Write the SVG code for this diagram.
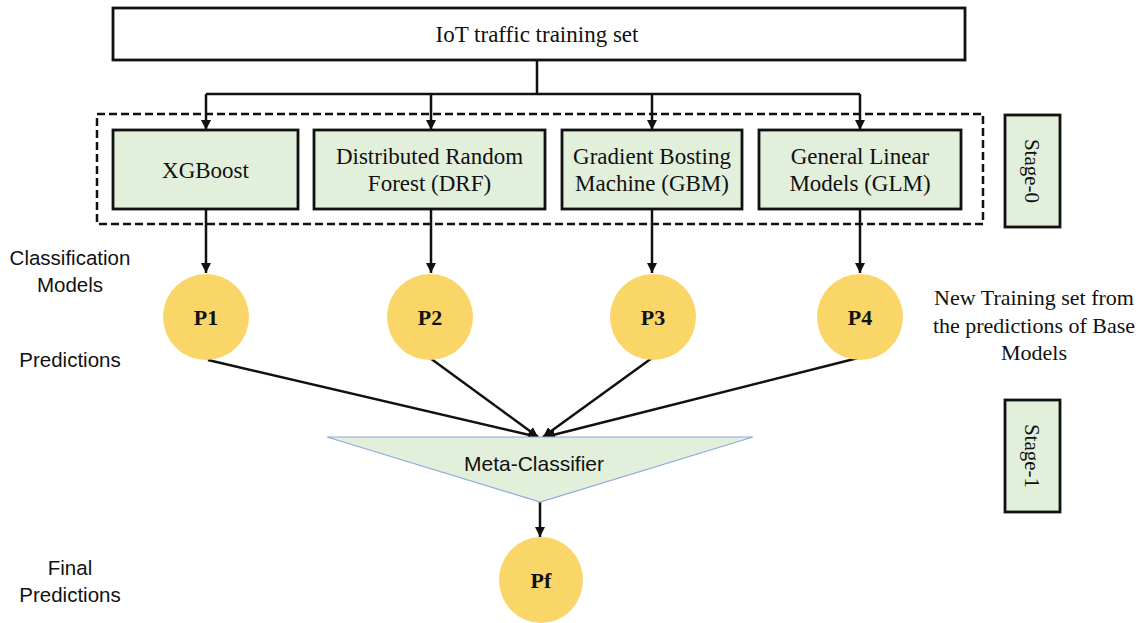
<svg xmlns="http://www.w3.org/2000/svg" width="1146" height="623" viewBox="0 0 1146 623">
<style>
.serif{font-family:"Liberation Serif","Times New Roman",serif;fill:#111}
.sans{font-family:"Liberation Sans",Arial,sans-serif;fill:#111}
.box{fill:#E2EFDA;stroke:#111;stroke-width:2.8}
.circ{fill:#FAD669;stroke:none}
.conn{stroke:#111;stroke-width:2.5;fill:none}
</style>
<defs>
<marker id="ah" viewBox="0 0 10 10" refX="10" refY="5" markerWidth="4" markerHeight="4" orient="auto" markerUnits="strokeWidth">
<path d="M0,0 L10,5 L0,10 z" fill="#111"/>
</marker>
</defs>
<rect width="1146" height="623" fill="#fff"/>

<g id="stage0-frame">
<rect x="97" y="114" width="886" height="110" fill="none" stroke="#111" stroke-width="2.5" stroke-dasharray="8,4"/>
</g>

<g id="connectors">
<path class="conn" d="M537,60 V94"/>
<path class="conn" d="M206,94 H860"/>
<path class="conn" d="M206,94 V130" marker-end="url(#ah)"/>
<path class="conn" d="M431,94 V130" marker-end="url(#ah)"/>
<path class="conn" d="M652,94 V130" marker-end="url(#ah)"/>
<path class="conn" d="M860,94 V130" marker-end="url(#ah)"/>
<path class="conn" d="M206,209 V273" marker-end="url(#ah)"/>
<path class="conn" d="M431,209 V273" marker-end="url(#ah)"/>
<path class="conn" d="M652,209 V273" marker-end="url(#ah)"/>
<path class="conn" d="M860,209 V273" marker-end="url(#ah)"/>
<path class="conn" d="M208,360 L538,437" marker-end="url(#ah)"/>
<path class="conn" d="M430,358 L538,437" marker-end="url(#ah)"/>
<path class="conn" d="M652,358 L543,437" marker-end="url(#ah)"/>
<path class="conn" d="M858,358 L545,437" marker-end="url(#ah)"/>
<path class="conn" d="M540,502 V537" marker-end="url(#ah)"/>
</g>

<g id="training-set">
<rect x="113" y="8" width="852" height="52" fill="#fff" stroke="#111" stroke-width="2.8"/>
<text class="serif" x="537" y="42" font-size="23" text-anchor="middle">IoT traffic training set</text>
</g>

<g id="xgboost">
<rect class="box" x="113" y="130" width="185" height="79"/>
<text class="serif" x="205.5" y="178" font-size="23" text-anchor="middle">XGBoost</text>
</g>
<g id="drf">
<rect class="box" x="314" y="130" width="231" height="79"/>
<text class="serif" x="429.5" y="164" font-size="23" text-anchor="middle">Distributed Random</text>
<text class="serif" x="429.5" y="191" font-size="23" text-anchor="middle">Forest (DRF)</text>
</g>
<g id="gbm">
<rect class="box" x="562" y="130" width="180" height="79"/>
<text class="serif" x="652" y="164" font-size="23" text-anchor="middle">Gradient Bosting</text>
<text class="serif" x="652" y="191" font-size="23" text-anchor="middle">Machine (GBM)</text>
</g>
<g id="glm">
<rect class="box" x="759" y="130" width="202" height="79"/>
<text class="serif" x="860" y="164" font-size="23" text-anchor="middle">General Linear</text>
<text class="serif" x="860" y="191" font-size="23" text-anchor="middle">Models (GLM)</text>
</g>

<g id="stage0">
<rect class="box" x="1005" y="115" width="55" height="112"/>
<text class="serif" transform="translate(1032,171) rotate(90)" x="0" y="7" font-size="21" text-anchor="middle">Stage-0</text>
</g>
<g id="stage1">
<rect class="box" x="1005" y="400" width="55" height="112"/>
<text class="serif" transform="translate(1032,456) rotate(90)" x="0" y="7" font-size="21" text-anchor="middle">Stage-1</text>
</g>

<g id="p1"><circle class="circ" cx="206" cy="317" r="43"/><text class="serif" x="206" y="325" font-size="22" font-weight="bold" text-anchor="middle">P1</text></g>
<g id="p2"><circle class="circ" cx="430" cy="317" r="43"/><text class="serif" x="430" y="325" font-size="22" font-weight="bold" text-anchor="middle">P2</text></g>
<g id="p3"><circle class="circ" cx="653" cy="317" r="43"/><text class="serif" x="653" y="325" font-size="22" font-weight="bold" text-anchor="middle">P3</text></g>
<g id="p4"><circle class="circ" cx="860" cy="317" r="43"/><text class="serif" x="860" y="325" font-size="22" font-weight="bold" text-anchor="middle">P4</text></g>

<g id="meta-classifier">
<polygon points="327,437 753,437 540,502" fill="#E2EFDA" stroke="#8FAADC" stroke-width="1.2"/>
<text class="sans" x="534" y="471" font-size="21" text-anchor="middle">Meta-Classifier</text>
</g>

<g id="pf"><ellipse class="circ" cx="541" cy="580" rx="42" ry="43"/><text class="serif" x="541" y="588" font-size="22" font-weight="bold" text-anchor="middle">Pf</text></g>

<g id="labels">
<text class="sans" x="70" y="265" font-size="20.5" text-anchor="middle">Classification</text>
<text class="sans" x="70" y="292" font-size="20.5" text-anchor="middle">Models</text>
<text class="sans" x="70" y="367" font-size="20.5" text-anchor="middle">Predictions</text>
<text class="sans" x="70" y="575" font-size="20.5" text-anchor="middle">Final</text>
<text class="sans" x="70" y="602" font-size="20.5" text-anchor="middle">Predictions</text>
<text class="serif" x="1034" y="305" font-size="22" text-anchor="middle">New Training set from</text>
<text class="serif" x="1034" y="333" font-size="22" text-anchor="middle">the predictions of Base</text>
<text class="serif" x="1034" y="360" font-size="22" text-anchor="middle">Models</text>
</g>
</svg>
